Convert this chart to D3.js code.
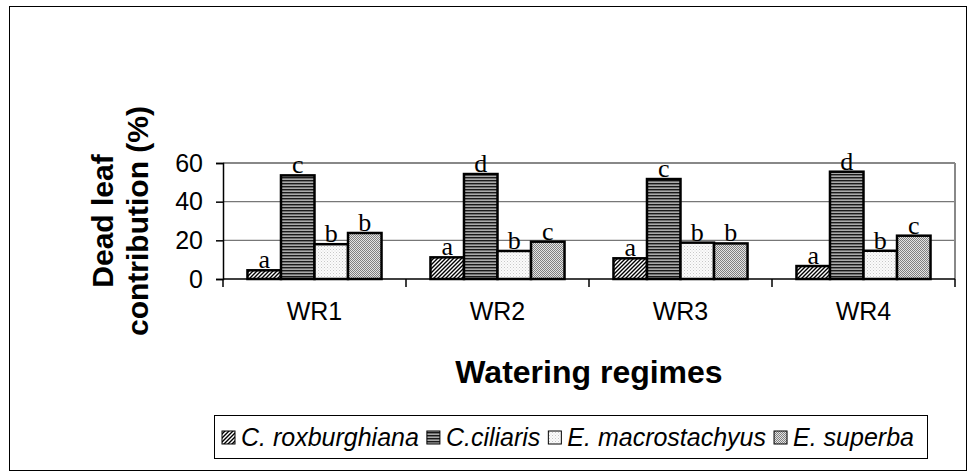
<!DOCTYPE html>
<html>
<head>
<meta charset="utf-8">
<script src="https://cdn.jsdelivr.net/npm/d3@7"></script>
<style>
  body { margin: 0; background: #fff; }
  svg { display: block; }
</style>
</head>
<body>
<svg id="chart"></svg>
<script>
'use strict'

var regimes = ["WR1", "WR2", "WR3", "WR4"];
var species = ["C. roxburghiana", "C.ciliaris", "E. macrostachyus", "E. superba"];
var roxburghiana = [4.5, 11.2, 10.7, 6.7];
var ciliaris = [53.6, 54.3, 51.7, 55.5];
var macrostachyus = [18.0, 14.5, 18.8, 14.6];
var superba = [23.8, 19.3, 18.4, 22.4];
var letters = [
	["a", "c", "b", "b"],
	["a", "d", "b", "c"],
	["a", "c", "b", "b"],
	["a", "d", "b", "c"]
];
var yTicks = [0, 20, 40, 60];

var WIDTH = 968,
	HEIGHT = 472;

var plot = { left: 223, right: 955, top: 163, bottom: 279 };
var SANS = "'Liberation Sans', Arial, sans-serif";

var svg = d3.select("#chart")
	.attr("width", WIDTH)
	.attr("height", HEIGHT);

svg.append("rect")
	.attr("x", 0).attr("y", 0)
	.attr("width", WIDTH).attr("height", HEIGHT)
	.style("fill", "#fff");

// patterns for the four species
var defs = svg.append("defs");

var p0 = defs.append("pattern").attr("id", "pat0")
	.attr("patternUnits", "userSpaceOnUse")
	.attr("width", 4).attr("height", 4);
p0.append("rect").attr("width", 4).attr("height", 4).style("fill", "#fff");
p0.append("path")
	.attr("d", "M-1,1 L1,-1 M0,4 L4,0 M3,5 L5,3")
	.style("stroke", "#000").style("stroke-width", 1.4);

var p1 = defs.append("pattern").attr("id", "pat1")
	.attr("patternUnits", "userSpaceOnUse")
	.attr("width", 4).attr("height", 3);
p1.append("rect").attr("width", 4).attr("height", 3).style("fill", "#aaa");
p1.append("rect").attr("y", 0).attr("width", 4).attr("height", 1.4).style("fill", "#1a1a1a");

var p2 = defs.append("pattern").attr("id", "pat2")
	.attr("patternUnits", "userSpaceOnUse")
	.attr("width", 3).attr("height", 3);
p2.append("rect").attr("width", 3).attr("height", 3).style("fill", "#fbfbfb");
p2.append("rect").attr("x", 0).attr("y", 0).attr("width", 1).attr("height", 1).style("fill", "#c8c8c8");
p2.append("rect").attr("x", 1.5).attr("y", 1.5).attr("width", 1).attr("height", 1).style("fill", "#d8d8d8");

var p3 = defs.append("pattern").attr("id", "pat3")
	.attr("patternUnits", "userSpaceOnUse")
	.attr("width", 2).attr("height", 2);
p3.append("rect").attr("width", 2).attr("height", 2).style("fill", "#e4e4e4");
p3.append("rect").attr("x", 0).attr("y", 0).attr("width", 1).attr("height", 1).style("fill", "#808080");
p3.append("rect").attr("x", 1).attr("y", 1).attr("width", 1).attr("height", 1).style("fill", "#808080");

// outer frame
svg.append("rect")
	.attr("x", 9.5).attr("y", 6.5)
	.attr("width", 957).attr("height", 464)
	.style("fill", "none")
	.style("stroke", "#000")
	.style("stroke-width", 1);

var x0 = d3.scaleBand()
	.domain(regimes)
	.range([plot.left, plot.right]);

var x1 = d3.scaleBand()
	.domain(species)
	.range([0, x0.bandwidth()])
	.paddingOuter(0.73);

var y = d3.scaleLinear()
	.domain([0, 60])
	.range([plot.bottom, plot.top]);

// gridlines
svg.append("g")
	.selectAll("line")
	.data(yTicks.filter(function (d) { return d > 0; }))
	.enter()
	.append("line")
	.attr("x1", plot.left).attr("x2", plot.right)
	.attr("y1", function (d) { return y(d); })
	.attr("y2", function (d) { return y(d); })
	.style("stroke", "#777")
	.style("stroke-width", 1.2);

// plot area border
svg.append("line")
	.attr("x1", plot.right).attr("x2", plot.right)
	.attr("y1", plot.top).attr("y2", plot.bottom)
	.style("stroke", "#888")
	.style("stroke-width", 2);
svg.append("line")
	.attr("x1", plot.left).attr("x2", plot.right)
	.attr("y1", plot.top).attr("y2", plot.top)
	.style("stroke", "#888")
	.style("stroke-width", 2);

// bars
var series = [roxburghiana, ciliaris, macrostachyus, superba];
var rows = [];
regimes.forEach(function (r, i) {
	species.forEach(function (s, j) {
		rows.push({ regime: r, sp: s, k: j, value: series[j][i], letter: letters[i][j] });
	});
});

var bars = svg.append("g")
	.selectAll("rect")
	.data(rows)
	.enter();

bars.append("rect")
	.attr("x", function (d) { return x0(d.regime) + x1(d.sp); })
	.attr("y", function (d) { return y(d.value); })
	.attr("width", x1.bandwidth())
	.attr("height", function (d) { return y(0) - y(d.value); })
	.style("fill", function (d) { return "url(#pat" + d.k + ")"; })
	.style("stroke", "#000")
	.style("stroke-width", 2.5);

bars.append("text")
	.attr("x", function (d) { return x0(d.regime) + x1(d.sp) + x1.bandwidth() / 2; })
	.attr("y", function (d) { return y(d.value) - 2; })
	.attr("text-anchor", "middle")
	.style("font-family", "'Liberation Serif', 'Times New Roman', serif")
	.style("font-size", "26px")
	.text(function (d) { return d.letter; });

// axes
var yAxis = svg.append("g")
	.attr("transform", "translate(" + plot.left + ",0)")
	.call(d3.axisLeft(y).tickValues(yTicks).tickSize(7).tickPadding(13));

var xAxis = svg.append("g")
	.attr("transform", "translate(0," + plot.bottom + ")")
	.call(d3.axisBottom(x0).tickSize(0).tickPadding(23));

[yAxis, xAxis].forEach(function (ax) {
	ax.select(".domain").style("stroke", "#000").style("stroke-width", 1.5);
	ax.selectAll(".tick line").style("stroke", "#000").style("stroke-width", 1.5);
	ax.selectAll("text")
		.style("font-family", SANS)
		.style("font-size", "25px")
		.style("fill", "#000");
});
xAxis.select(".domain").attr("d", "M" + plot.left + ",0H" + plot.right);

// category separator ticks
svg.append("g")
	.selectAll("line")
	.data(regimes.concat(["end"]))
	.enter()
	.append("line")
	.attr("x1", function (d) { return d === "end" ? plot.right : x0(d); })
	.attr("x2", function (d) { return d === "end" ? plot.right : x0(d); })
	.attr("y1", plot.bottom)
	.attr("y2", plot.bottom + 8)
	.style("stroke", "#000")
	.style("stroke-width", 1.5);

// axis titles
var yTitle = svg.append("text")
	.attr("transform", "translate(118," + ((plot.top + plot.bottom) / 2) + ") rotate(-90)")
	.attr("text-anchor", "middle")
	.style("font-family", SANS)
	.style("font-size", "30px")
	.style("font-weight", "bold");
yTitle.append("tspan").attr("x", 0).attr("y", -5).text("Dead leaf");
yTitle.append("tspan").attr("x", 0).attr("y", 30).text("contribution (%)");

svg.append("text")
	.attr("x", (plot.left + plot.right) / 2)
	.attr("y", 383)
	.attr("text-anchor", "middle")
	.style("font-family", SANS)
	.style("font-size", "32px")
	.style("font-weight", "bold")
	.text("Watering regimes");

// legend
svg.append("rect")
	.attr("x", 214.5).attr("y", 415.5)
	.attr("width", 713).attr("height", 43)
	.style("fill", "#fff")
	.style("stroke", "#000")
	.style("stroke-width", 1);

var legend = svg.append("g")
	.selectAll("g")
	.data(species)
	.enter()
	.append("g");

legend.append("rect")
	.attr("y", 431)
	.attr("width", 13).attr("height", 13)
	.style("fill", function (d, i) { return "url(#pat" + i + ")"; })
	.style("stroke", "#000")
	.style("stroke-width", 1);

legend.append("text")
	.attr("y", 446)
	.style("font-family", SANS)
	.style("font-size", "25px")
	.style("font-style", "italic")
	.text(function (d) { return d; });

// flow the legend items left to right
var lx = 222;
legend.each(function () {
	var g = d3.select(this);
	g.select("rect").attr("x", lx);
	g.select("text").attr("x", lx + 19);
	lx += 19 + g.select("text").node().getComputedTextLength() + 8;
});
</script>
</body>
</html>
